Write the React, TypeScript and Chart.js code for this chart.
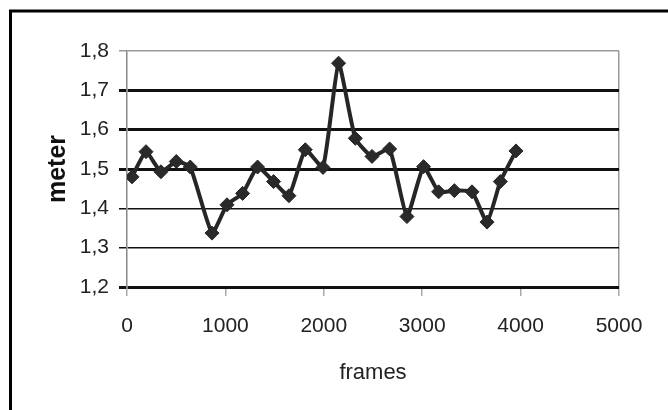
import React, { useEffect, useRef } from "react";
import { Chart, registerables } from "chart.js";

Chart.register(...registerables);

const frames = [51, 193, 345, 501, 643, 864, 1016, 1175, 1327, 1490, 1646, 1812, 1992, 2150, 2320, 2490, 2669, 2845, 3014, 3167, 3327, 3506, 3659, 3794, 3953];
const meters = [1.48, 1.544, 1.493, 1.519, 1.505, 1.337, 1.409, 1.438, 1.505, 1.468, 1.432, 1.549, 1.504, 1.769, 1.578, 1.532, 1.551, 1.379, 1.506, 1.442, 1.445, 1.442, 1.365, 1.468, 1.546];
const xTitle = "frames";
const yTitle = "meter";

const SANS = "'Liberation Sans', Arial, sans-serif";

const frameBorder = {
  id: "frameBorder",
  afterDraw(chart: any) {
    const ctx = chart.ctx;
    ctx.save();
    ctx.strokeStyle = "#000";
    ctx.lineWidth = 3;
    ctx.beginPath();
    ctx.moveTo(10.5, 410);
    ctx.lineTo(10.5, 11);
    ctx.lineTo(668, 11);
    ctx.stroke();
    ctx.restore();
  },
};

export default function App() {
  const ref = useRef<HTMLCanvasElement>(null);
  useEffect(() => {
    const data = frames.map((f, i) => ({ x: f, y: meters[i] }));
    const chart = new Chart(ref.current!, {
      type: "line",
      data: {
        datasets: [
          {
            data,
            borderColor: "#262626",
            backgroundColor: "#262626",
            borderWidth: 4,
            tension: 0.15,
            pointStyle: "rectRot",
            pointRadius: 7,
            pointBorderWidth: 1,
            pointBorderColor: "#262626",
            pointBackgroundColor: "#2a2a2a",
          },
        ],
      },
      options: {
        responsive: false,
        animation: false,
        layout: { padding: { top: 51, right: 49, left: 0, bottom: 0 }, autoPadding: false },
        plugins: { legend: { display: false }, tooltip: { enabled: false } },
        scales: {
          x: {
            type: "linear",
            min: 0,
            max: 5000,
            afterFit: (s: any) => { s.height = 123; },
            ticks: {
              stepSize: 1000,
              color: "#222",
              padding: 18,
              font: { family: SANS, size: 21 },
              callback: (v: any) => String(v),
            },
            grid: {
              drawOnChartArea: true,
              tickLength: 9,
              color: (c: any) => (c.tick && c.tick.value === 5000 ? "#999" : "rgba(0,0,0,0)"),
              tickColor: "#aaa",
              lineWidth: 1.5,
            },
            border: { display: false },
            title: {
              display: true,
              text: xTitle,
              color: "#222",
              font: { family: SANS, size: 22 },
              padding: { top: 0, bottom: 24 },
            },
          },
          y: {
            min: 1.2,
            max: 1.8,
            afterFit: (s: any) => { s.width = 127; },
            ticks: {
              stepSize: 0.1,
              color: "#222",
              padding: 10,
              font: { family: SANS, size: 21 },
              callback: (v: any) => Number(v).toFixed(1).replace(".", ","),
            },
            grid: {
              tickLength: 8,
              color: (c: any) => {
                const v = Math.round(c.tick.value * 10);
                return v === 18 ? "#999" : "#111";
              },
              lineWidth: (c: any) => {
                const v = Math.round(c.tick.value * 10);
                return v === 13 || v === 14 || v === 18 ? 1.5 : 3;
              },
            },
            border: { color: "#888", width: 1.5 },
            title: {
              display: true,
              text: yTitle,
              color: "#111",
              font: { family: SANS, size: 25, weight: "bold" },
              padding: { top: 43, bottom: 0 },
            },
          },
        },
      },
      plugins: [frameBorder],
    });
    return () => chart.destroy();
  }, []);
  return (
    <div style={{ position: "fixed", left: 0, top: 0, width: 668, height: 410, background: "#fff" }}>
      <canvas ref={ref} width={668} height={410} style={{ display: "block" }} />
    </div>
  );
}
